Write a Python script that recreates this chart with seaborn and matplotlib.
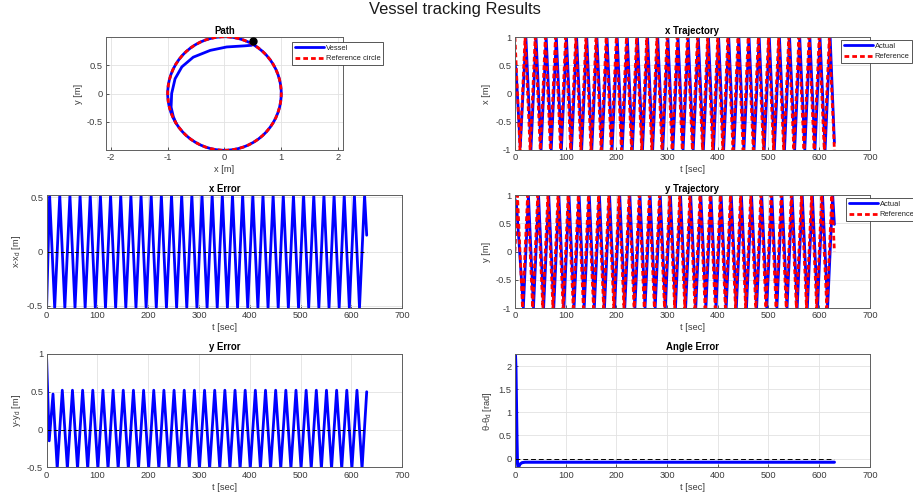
import matplotlib
matplotlib.use("Agg")
import matplotlib.pyplot as plt
from matplotlib.lines import Line2D
from matplotlib.patches import Circle
from matplotlib.ticker import FuncFormatter
import seaborn as sns

# ---------------- data ----------------
# x reference (turning points)
x_ref_t = [0, 10, 20, 30, 40, 50, 60, 70, 80, 90,
           100, 110, 120, 130, 140, 150, 160, 170, 180, 190,
           200, 210, 220, 230, 240, 250, 260, 270, 280, 290,
           300, 310, 320, 330, 340, 350, 360, 370, 380, 390,
           400, 410, 420, 430, 440, 450, 460, 470, 480, 490,
           500, 510, 520, 530, 540, 550, 560, 570, 580, 590,
           600, 610, 620, 630]
x_ref_v = [1, -1, 1, -1, 1, -1, 1, -1, 1, -1,
           1, -1, 1, -1, 1, -1, 1, -1, 1, -1,
           1, -1, 1, -1, 1, -1, 1, -1, 1, -1,
           1, -1, 1, -1, 1, -1, 1, -1, 1, -1,
           1, -1, 1, -1, 1, -1, 1, -1, 1, -1,
           1, -1, 1, -1, 1, -1, 1, -1, 1, -1,
           1, -1, 1, -1]

# y reference (turning points)
y_ref_t = [0, 5, 15, 25, 35, 45, 55, 65, 75, 85, 95,
           105, 115, 125, 135, 145, 155, 165, 175, 185, 195,
           205, 215, 225, 235, 245, 255, 265, 275, 285, 295,
           305, 315, 325, 335, 345, 355, 365, 375, 385, 395,
           405, 415, 425, 435, 445, 455, 465, 475, 485, 495,
           505, 515, 525, 535, 545, 555, 565, 575, 585, 595,
           605, 615, 625, 630]
y_ref_v = [0, 1, -1, 1, -1, 1, -1, 1, -1, 1, -1,
           1, -1, 1, -1, 1, -1, 1, -1, 1, -1,
           1, -1, 1, -1, 1, -1, 1, -1, 1, -1,
           1, -1, 1, -1, 1, -1, 1, -1, 1, -1,
           1, -1, 1, -1, 1, -1, 1, -1, 1, -1,
           1, -1, 1, -1, 1, -1, 1, -1, 1, -1,
           1, -1, 1, 0]

# actual x (turning points)
x_act_t = [0, 2, 10.5, 21.6, 31.6, 41.6, 51.6, 61.6, 71.6, 81.6, 91.6,
           101.6, 111.6, 121.6, 131.6, 141.6, 151.6, 161.6, 171.6, 181.6, 191.6,
           201.6, 211.6, 221.6, 231.6, 241.6, 251.6, 261.6, 271.6, 281.6, 291.6,
           301.6, 311.6, 321.6, 331.6, 341.6, 351.6, 361.6, 371.6, 381.6, 391.6,
           401.6, 411.6, 421.6, 431.6, 441.6, 451.6, 461.6, 471.6, 481.6, 491.6,
           501.6, 511.6, 521.6, 531.6, 541.6, 551.6, 561.6, 571.6, 581.6, 591.6,
           601.6, 611.6, 621.6, 630]
x_act_v = [0.5, 0.45, -0.95, 1, -1, 1, -1, 1, -1, 1, -1,
           1, -1, 1, -1, 1, -1, 1, -1, 1, -1,
           1, -1, 1, -1, 1, -1, 1, -1, 1, -1,
           1, -1, 1, -1, 1, -1, 1, -1, 1, -1,
           1, -1, 1, -1, 1, -1, 1, -1, 1, -1,
           1, -1, 1, -1, 1, -1, 1, -1, 1, -1,
           1, -1, 1, -0.87]

# actual y (turning points)
y_act_t = [0, 3, 16.6, 26.6, 36.6, 46.6, 56.6, 66.6, 76.6, 86.6, 96.6,
           106.6, 116.6, 126.6, 136.6, 146.6, 156.6, 166.6, 176.6, 186.6, 196.6,
           206.6, 216.6, 226.6, 236.6, 246.6, 256.6, 266.6, 276.6, 286.6, 296.6,
           306.6, 316.6, 326.6, 336.6, 346.6, 356.6, 366.6, 376.6, 386.6, 396.6,
           406.6, 416.6, 426.6, 436.6, 446.6, 456.6, 466.6, 476.6, 486.6, 496.6,
           506.6, 516.6, 526.6, 536.6, 546.6, 556.6, 566.6, 576.6, 586.6, 596.6,
           606.6, 616.6, 626.6, 630]
y_act_v = [0.93, 0.85, -1, 1, -1, 1, -1, 1, -1, 1, -1,
           1, -1, 1, -1, 1, -1, 1, -1, 1, -1,
           1, -1, 1, -1, 1, -1, 1, -1, 1, -1,
           1, -1, 1, -1, 1, -1, 1, -1, 1, -1,
           1, -1, 1, -1, 1, -1, 1, -1, 1, -1,
           1, -1, 1, -1, 1, -1, 1, -1, 1, -1,
           1, -1, 1, 0.48]

# x error (turning points)
x_err_t = [0, 5.8, 15.8, 25.8, 35.8, 45.8, 55.8, 65.8, 75.8, 85.8, 95.8,
           105.8, 115.8, 125.8, 135.8, 145.8, 155.8, 165.8, 175.8, 185.8, 195.8,
           205.8, 215.8, 225.8, 235.8, 245.8, 255.8, 265.8, 275.8, 285.8, 295.8,
           305.8, 315.8, 325.8, 335.8, 345.8, 355.8, 365.8, 375.8, 385.8, 395.8,
           405.8, 415.8, 425.8, 435.8, 445.8, 455.8, 465.8, 475.8, 485.8, 495.8,
           505.8, 515.8, 525.8, 535.8, 545.8, 555.8, 565.8, 575.8, 585.8, 595.8,
           605.8, 615.8, 625.8, 630]
x_err_v = [-0.5, 0.52, -0.52, 0.52, -0.52, 0.52, -0.52, 0.52, -0.52, 0.52, -0.52,
           0.52, -0.52, 0.52, -0.52, 0.52, -0.52, 0.52, -0.52, 0.52, -0.52,
           0.52, -0.52, 0.52, -0.52, 0.52, -0.52, 0.52, -0.52, 0.52, -0.52,
           0.52, -0.52, 0.52, -0.52, 0.52, -0.52, 0.52, -0.52, 0.52, -0.52,
           0.52, -0.52, 0.52, -0.52, 0.52, -0.52, 0.52, -0.52, 0.52, -0.52,
           0.52, -0.52, 0.52, -0.52, 0.52, -0.52, 0.52, -0.52, 0.52, -0.52,
           0.52, -0.52, 0.52, 0.15]

# y error (turning points)
y_err_t = [0, 5, 12.5, 20.8, 30.8, 40.8, 50.8, 60.8, 70.8, 80.8, 90.8,
           100.8, 110.8, 120.8, 130.8, 140.8, 150.8, 160.8, 170.8, 180.8, 190.8,
           200.8, 210.8, 220.8, 230.8, 240.8, 250.8, 260.8, 270.8, 280.8, 290.8,
           300.8, 310.8, 320.8, 330.8, 340.8, 350.8, 360.8, 370.8, 380.8, 390.8,
           400.8, 410.8, 420.8, 430.8, 440.8, 450.8, 460.8, 470.8, 480.8, 490.8,
           500.8, 510.8, 520.8, 530.8, 540.8, 550.8, 560.8, 570.8, 580.8, 590.8,
           600.8, 610.8, 620.8, 630]
y_err_v = [0.93, -0.15, 0.47, -0.52, 0.52, -0.52, 0.52, -0.52, 0.52, -0.52, 0.52,
           -0.52, 0.52, -0.52, 0.52, -0.52, 0.52, -0.52, 0.52, -0.52, 0.52,
           -0.52, 0.52, -0.52, 0.52, -0.52, 0.52, -0.52, 0.52, -0.52, 0.52,
           -0.52, 0.52, -0.52, 0.52, -0.52, 0.52, -0.52, 0.52, -0.52, 0.52,
           -0.52, 0.52, -0.52, 0.52, -0.52, 0.52, -0.52, 0.52, -0.52, 0.52,
           -0.52, 0.52, -0.52, 0.52, -0.52, 0.52, -0.52, 0.52, -0.52, 0.52,
           -0.52, 0.52, -0.52, 0.5]

# heading angle error
ang_t = [0, 1, 2, 3, 4, 5, 6, 8, 10, 14, 20, 630]
ang_v = [2.27, 2.25, 1.95, 1.2, 0.45, -0.1, -0.19, -0.17, -0.12, -0.09, -0.08, -0.08]

# zero reference line
zero_t = [0, 630]
zero_v = [0, 0]

# path: initial transient of the vessel, start point, circles
path_x = [0.5, 0.48, 0.36, 0.04, -0.25, -0.55, -0.75, -0.87, -0.93, -0.94, -0.90, -0.85]
path_y = [0.93, 0.85, 0.84, 0.82, 0.76, 0.64, 0.47, 0.26, 0.0, -0.24, -0.41, -0.53]
start_x = [0.5]
start_y = [0.93]
circle_center = (0.0, 0.0)
circle_radius = 1.0

t_ticks = [0, 100, 200, 300, 400, 500, 600, 700]

# ---------------- style ----------------
sns.set_theme(style="whitegrid")
plt.rcParams.update({
    "font.family": ["Liberation Sans", "DejaVu Sans"],
    "mathtext.default": "regular",
    "axes.unicode_minus": False,
    "axes.edgecolor": "#5e5e5e",
    "axes.linewidth": 0.7,
    "axes.facecolor": "white",
    "grid.color": "#e2e2e2",
    "grid.linewidth": 0.6,
    "xtick.color": "#3c3c3c",
    "ytick.color": "#3c3c3c",
    "xtick.labelsize": 6.7,
    "ytick.labelsize": 6.7,
    "axes.labelsize": 6.7,
    "axes.labelcolor": "#3c3c3c",
    "xtick.direction": "in",
    "ytick.direction": "in",
    "xtick.major.size": 2.5,
    "ytick.major.size": 2.5,
    "xtick.major.width": 0.6,
    "ytick.major.width": 0.6,
    "xtick.bottom": True,
    "ytick.left": True,
    "xtick.major.pad": 2.5,
    "ytick.major.pad": 2.5,
})

BLUE = (0, 0, 1)
RED = (1, 0, 0)
LW = 2.0
DASH = (0, (1.7, 1.1))
fmt = FuncFormatter(lambda v, p: "%g" % v)

fig = plt.figure(figsize=(9.13, 5.01), dpi=100)

LX, LW_AX = 0.0511, 0.3895
RX, RW_AX = 0.564, 0.3888
rows = [(0.7006, 0.2255), (0.3852, 0.2255), (0.0673, 0.2262)]


def style_ax(ax, title, xlabel, ylabel):
    ax.set_title(title, fontsize=6.9, fontweight="bold", pad=2.5, color="black")
    ax.set_xlabel(xlabel, labelpad=2)
    ax.set_ylabel(ylabel, labelpad=3)
    ax.xaxis.set_major_formatter(fmt)
    ax.yaxis.set_major_formatter(fmt)
    ax.grid(True)
    for s in ax.spines.values():
        s.set_visible(True)
        s.set_color("#5e5e5e")
        s.set_linewidth(0.7)


def legend_at(ax, labels, styles, xy_px):
    handles = [Line2D([], [], color=c, lw=LW, linestyle=ls) for c, ls in styles]
    leg = ax.legend(handles, labels, loc="upper left",
                    bbox_to_anchor=(xy_px[0] / 913, 1 - xy_px[1] / 501),
                    bbox_transform=fig.transFigure, fontsize=5.4,
                    frameon=True, fancybox=False, framealpha=1,
                    edgecolor="#3a3a3a", handlelength=3.9, handletextpad=0.25,
                    borderpad=0.35, labelspacing=0.45, borderaxespad=0)
    leg.get_frame().set_linewidth(0.6)
    for tx in leg.get_texts():
        tx.set_color("#222222")
    return leg


# ---- Path ----
ax = fig.add_axes([LX, rows[0][0], LW_AX, rows[0][1]])
ax.add_patch(Circle(circle_center, circle_radius, fill=False, color=BLUE, lw=LW, zorder=2))
sns.lineplot(x=path_x, y=path_y, sort=False, estimator=None, color=BLUE, lw=LW, ax=ax, zorder=2)
ax.add_patch(Circle(circle_center, circle_radius, fill=False, color=RED, lw=LW,
                    linestyle=DASH, zorder=3))
ax.plot(start_x, start_y, "o", color="black", ms=5, zorder=4)
ax.set_xlim(-2.08, 2.08)
ax.set_ylim(-0.995, 0.995)
ax.set_xticks([-2, -1, 0, 1, 2])
ax.set_yticks([-0.5, 0, 0.5])
ax.set_aspect("equal", adjustable="box", anchor="C")
style_ax(ax, "Path", "x [m]", "y [m]")
legend_at(ax, ["Vessel", "Reference circle"], [(BLUE, "-"), (RED, DASH)], (292, 42))

# ---- x Trajectory ----
ax = fig.add_axes([RX, rows[0][0], RW_AX, rows[0][1]])
sns.lineplot(x=x_act_t, y=x_act_v, color=BLUE, lw=LW, ax=ax)
sns.lineplot(x=x_ref_t, y=x_ref_v, color=RED, lw=LW, linestyle=DASH, ax=ax)
ax.set_xlim(0, 700)
ax.set_ylim(-1, 1)
ax.set_xticks(t_ticks)
ax.set_yticks([-1, -0.5, 0, 0.5, 1])
style_ax(ax, "x Trajectory", "t [sec]", "x [m]")
legend_at(ax, ["Actual", "Reference"], [(BLUE, "-"), (RED, DASH)], (841, 40))

# ---- x Error ----
ax = fig.add_axes([LX, rows[1][0], LW_AX, rows[1][1]])
sns.lineplot(x=x_err_t, y=x_err_v, color=BLUE, lw=LW, ax=ax)
sns.lineplot(x=zero_t, y=zero_v, color="black", lw=0.7, linestyle=(0, (4, 3)), ax=ax)
ax.set_xlim(0, 700)
ax.set_ylim(-0.52, 0.52)
ax.set_xticks(t_ticks)
ax.set_yticks([-0.5, 0, 0.5])
style_ax(ax, "x Error", "t [sec]", "x-x$_{d}$ [m]")

# ---- y Trajectory ----
ax = fig.add_axes([RX, rows[1][0], RW_AX, rows[1][1]])
sns.lineplot(x=y_act_t, y=y_act_v, color=BLUE, lw=LW, ax=ax)
sns.lineplot(x=y_ref_t, y=y_ref_v, color=RED, lw=LW, linestyle=DASH, ax=ax)
ax.set_xlim(0, 700)
ax.set_ylim(-1, 1)
ax.set_xticks(t_ticks)
ax.set_yticks([-1, -0.5, 0, 0.5, 1])
style_ax(ax, "y Trajectory", "t [sec]", "y [m]")
legend_at(ax, ["Actual", "Reference"], [(BLUE, "-"), (RED, DASH)], (846, 198))

# ---- y Error ----
ax = fig.add_axes([LX, rows[2][0], LW_AX, rows[2][1]])
sns.lineplot(x=y_err_t, y=y_err_v, color=BLUE, lw=LW, ax=ax)
sns.lineplot(x=zero_t, y=zero_v, color="black", lw=0.7, linestyle=(0, (4, 3)), ax=ax)
ax.set_xlim(0, 700)
ax.set_ylim(-0.5, 1)
ax.set_xticks(t_ticks)
ax.set_yticks([-0.5, 0, 0.5, 1])
style_ax(ax, "y Error", "t [sec]", "y-y$_{d}$ [m]")

# ---- Angle Error ----
ax = fig.add_axes([RX, rows[2][0], RW_AX, rows[2][1]])
sns.lineplot(x=ang_t, y=ang_v, color=BLUE, lw=2.2, ax=ax)
sns.lineplot(x=zero_t, y=zero_v, color="black", lw=0.7, linestyle=(0, (5, 3)), ax=ax)
ax.set_xlim(0, 700)
ax.set_ylim(-0.19, 2.27)
ax.set_xticks(t_ticks)
ax.set_yticks([0, 0.5, 1, 1.5, 2])
style_ax(ax, "Angle Error", "t [sec]", r"$\theta$-$\theta_{d}$ [rad]")

fig.text(0.498, 1 - 9.5 / 501, "Vessel tracking Results", ha="center", va="center",
         fontsize=11.9, color="#1a1a1a")

fig.savefig("out.png", dpi=100)
